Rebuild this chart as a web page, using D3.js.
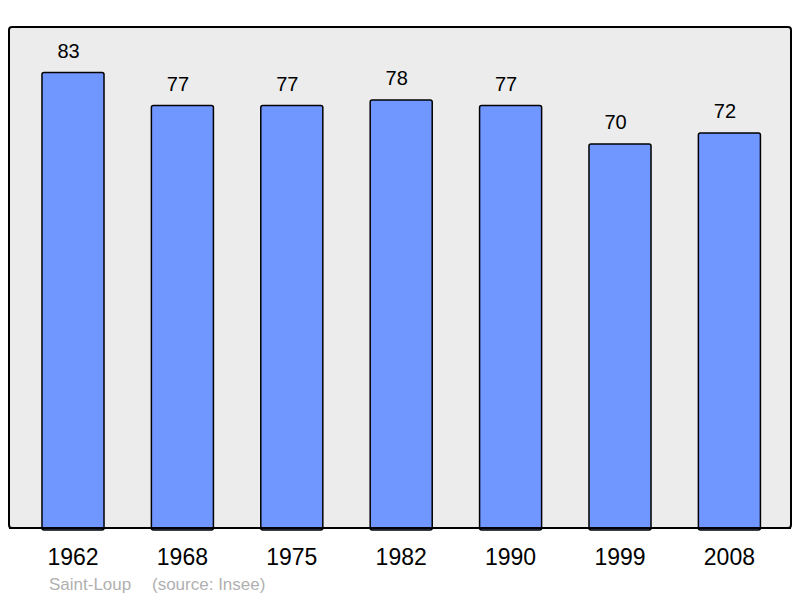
<!DOCTYPE html>
<html>
<head>
    <title>Saint-Loup population</title>
    <script src="https://d3js.org/d3.v7.min.js"></script>
    <style>
        body { margin: 0; padding: 0; background: #ffffff; overflow: hidden; }
        text { font-family: "Liberation Sans", Arial, sans-serif; }
    </style>
</head>
<body>
    <div id="chart"></div>
    <script>
        const years = ['1962', '1968', '1975', '1982', '1990', '1999', '2008'];
        const population = [83, 77, 77, 78, 77, 70, 72];
        const placeName = 'Saint-Loup';
        const sourceText = '(source: Insee)';

        const width = 800;
        const height = 598;
        const panel = { left: 9, top: 27, right: 791, bottom: 528 };

        const svg = d3.select('#chart')
            .append('svg')
            .attr('width', width)
            .attr('height', height);

        // Background panel
        svg.append('rect')
            .attr('x', panel.left)
            .attr('y', panel.top)
            .attr('width', panel.right - panel.left)
            .attr('height', panel.bottom - panel.top)
            .attr('rx', 3)
            .attr('fill', '#ececec')
            .attr('stroke', '#000')
            .attr('stroke-width', 2);

        const x = d3.scaleBand()
            .domain(years)
            .range([18.3, 784.1])
            .paddingInner(0.433)
            .paddingOuter(0.2165);

        const y = d3.scaleLinear()
            .domain([0, d3.max(population) * 1.1])
            .range([panel.bottom, panel.top]);

        const data = years.map((yr, i) => ({ year: yr, value: population[i] }));

        // Bars
        svg.append('g')
            .selectAll('rect')
            .data(data)
            .join('rect')
            .attr('x', d => x(d.year))
            .attr('y', d => y(d.value))
            .attr('width', x.bandwidth())
            .attr('height', d => panel.bottom - y(d.value) + 2)
            .attr('rx', 2)
            .attr('fill', '#7097ff')
            .attr('stroke', '#000')
            .attr('stroke-width', 1.5);

        // Redraw bottom border over bar ends
        svg.append('line')
            .attr('x1', panel.left)
            .attr('x2', panel.right)
            .attr('y1', panel.bottom)
            .attr('y2', panel.bottom)
            .attr('stroke', '#000')
            .attr('stroke-width', 2);

        // Value labels (sit a little left of the bar centre, as in the original)
        svg.append('g')
            .selectAll('text')
            .data(data)
            .join('text')
            .attr('x', d => x(d.year) + x.bandwidth() / 2 - 4.5)
            .attr('y', d => y(d.value) - 14.5)
            .attr('text-anchor', 'middle')
            .attr('font-size', 20)
            .attr('fill', '#000')
            .text(d => d.value);

        // Year labels
        svg.append('g')
            .selectAll('text')
            .data(data)
            .join('text')
            .attr('x', d => x(d.year) + x.bandwidth() / 2)
            .attr('y', 565)
            .attr('text-anchor', 'middle')
            .attr('font-size', 23)
            .attr('fill', '#000')
            .text(d => d.year);

        // Source line
        svg.append('text')
            .attr('x', 49)
            .attr('y', 590)
            .attr('font-size', 17)
            .attr('fill', '#b0b0b0')
            .text(placeName);

        svg.append('text')
            .attr('x', 152)
            .attr('y', 590)
            .attr('font-size', 17)
            .attr('fill', '#b0b0b0')
            .text(sourceText);
    </script>
</body>
</html>
